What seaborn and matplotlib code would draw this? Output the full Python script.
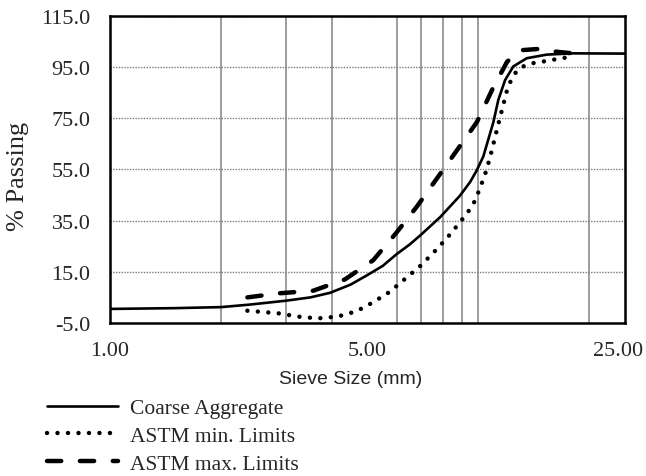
import matplotlib
matplotlib.use("Agg")
import matplotlib.pyplot as plt
from matplotlib.transforms import ScaledTranslation
import seaborn as sns
import pandas as pd

# Gradation curves: sieve size (mm) vs. percent passing
coarse_size = [1.0, 1.5, 2.0, 2.4, 3.0, 3.5, 3.96, 4.5, 4.98, 5.5, 6.0, 6.5, 6.94,
               7.87, 8.91, 9.49, 9.89, 10.31, 10.53, 10.98, 11.32, 11.81, 12.44,
               13.53, 15.33, 18.06, 25.0]
coarse_pass = [0.5, 0.8, 1.2, 2.2, 3.7, 5.0, 6.8, 10.0, 13.6, 17.3, 21.9, 25.6, 29.1,
               36.3, 44.7, 50.0, 54.5, 60.0, 64.5, 73.4, 82.0, 89.8, 95.2,
               98.4, 99.8, 100.3, 100.2]

min_size = [2.36, 2.86, 3.24, 3.66, 4.15, 4.67, 5.18, 5.75, 6.32, 6.97, 7.59, 8.23,
            8.91, 9.65, 10.1, 10.53, 10.87, 11.21, 11.57, 11.94, 12.31, 12.7, 13.24,
            13.95, 14.85, 15.81, 16.83, 17.95]
min_pass = [-0.2, -1.2, -2.5, -3.2, -2.5, -0.4, 3.1, 7.2, 12.2, 17.4, 22.8, 28.3,
            34.3, 40.8, 47.6, 54.9, 62.3, 70.1, 77.9, 85.5, 90.5, 93.3, 95.2,
            96.4, 97.0, 97.7, 98.4, 99.0]

max_size = [2.36, 2.88, 3.56, 4.34, 5.18, 5.97, 6.81, 7.72, 8.75, 9.91, 10.89,
            11.96, 12.97, 14.51, 16.14, 18.87]
max_pass = [5.0, 6.6, 7.6, 12.0, 19.5, 30.0, 40.5, 51.5, 62.5, 73.5, 86.0,
            97.0, 101.5, 102.0, 101.0, 100.0]

x_ticks = [1, 5, 25]
x_tick_labels = ["1.00", "5.00", "25.00"]
x_grid = [2, 3, 4, 5, 6, 7, 8, 9, 10, 20]
y_ticks = [-5, 15, 35, 55, 75, 95, 115]
y_tick_labels = ["-5.0", "15.0", "35.0", "55.0", "75.0", "95.0", "115.0"]

series_names = ["Coarse Aggregate", "ASTM min. Limits", "ASTM max. Limits"]

sns.set_style("white")
plt.rcParams["font.family"] = ["Liberation Serif", "DejaVu Serif"]

W, H = 646, 477
fig = plt.figure(figsize=(W / 100, H / 100), dpi=100)
ax = fig.add_axes([110 / W, 1 - 324 / H, 515 / W, 307.3 / H])

coarse_df = pd.DataFrame({"size": coarse_size, "passing": coarse_pass})
min_df = pd.DataFrame({"size": min_size, "passing": min_pass})
max_df = pd.DataFrame({"size": max_size, "passing": max_pass})

sns.lineplot(data=coarse_df, x="size", y="passing", ax=ax, color="black",
             linewidth=1.9, estimator=None, label=series_names[0],
             solid_capstyle="round", solid_joinstyle="round", zorder=4)
sns.lineplot(data=min_df, x="size", y="passing", ax=ax, color="black",
             linewidth=3.2, estimator=None, label=series_names[1],
             linestyle=(0, (0.01, 2.35)), dash_capstyle="round", zorder=4)
sns.lineplot(data=max_df, x="size", y="passing", ax=ax, color="black",
             linewidth=3.2, estimator=None, label=series_names[2],
             linestyle=(0, (3.2, 4.2)), dash_capstyle="round", zorder=4)

ax.set_xscale("log")
ax.set_xlim(1, 25)
ax.set_ylim(-5, 115)

ax.set_xticks(x_ticks)
ax.set_xticklabels(x_tick_labels)
ax.set_xticks(x_grid, minor=True)
ax.set_xticklabels([], minor=True)
ax.set_yticks(y_ticks)
ax.set_yticklabels(y_tick_labels)

ax.grid(False)
ax.grid(True, which="minor", axis="x", color="#8c8c8c", linewidth=1.2,
        linestyle="-", zorder=1)
ax.grid(True, which="major", axis="y", color="#7a7a7a", linewidth=1.0,
        linestyle=(0, (1, 1)), zorder=1)

ax.tick_params(axis="both", which="both", length=0)
ax.tick_params(axis="x", which="major", labelsize=16, pad=13)
ax.tick_params(axis="y", which="major", labelsize=16, pad=14)

# keep the last x label inside the figure edge
last = ax.get_xticklabels()[-1]
last.set_transform(last.get_transform() + ScaledTranslation(-7 / 100, 0, fig.dpi_scale_trans))

for s in ax.spines.values():
    s.set_visible(True)
    s.set_color("black")
    s.set_linewidth(1.8)

ax.set_xlabel("Sieve Size (mm)", fontsize=14, family=["Liberation Sans"])
ax.xaxis.set_label_coords((351 - 110) / 515, -(371 - 324) / 307.3)
ax.xaxis.label.set_va("top")
ax.set_ylabel("% Passing", fontsize=19)
ax.yaxis.set_label_coords(-(110 - 18) / 515, 0.48)
ax.yaxis.label.set_va("center")

handles, labels = ax.get_legend_handles_labels()
ax.get_legend().remove()
fig.legend(handles, labels, loc="upper left",
           bbox_to_anchor=(47 / W, 1 - 399 / H), frameon=False,
           fontsize=15.5, handlelength=3.3, handletextpad=0.55,
           labelspacing=0.36, borderpad=0, borderaxespad=0)

fig.savefig("out.png", dpi=100)
